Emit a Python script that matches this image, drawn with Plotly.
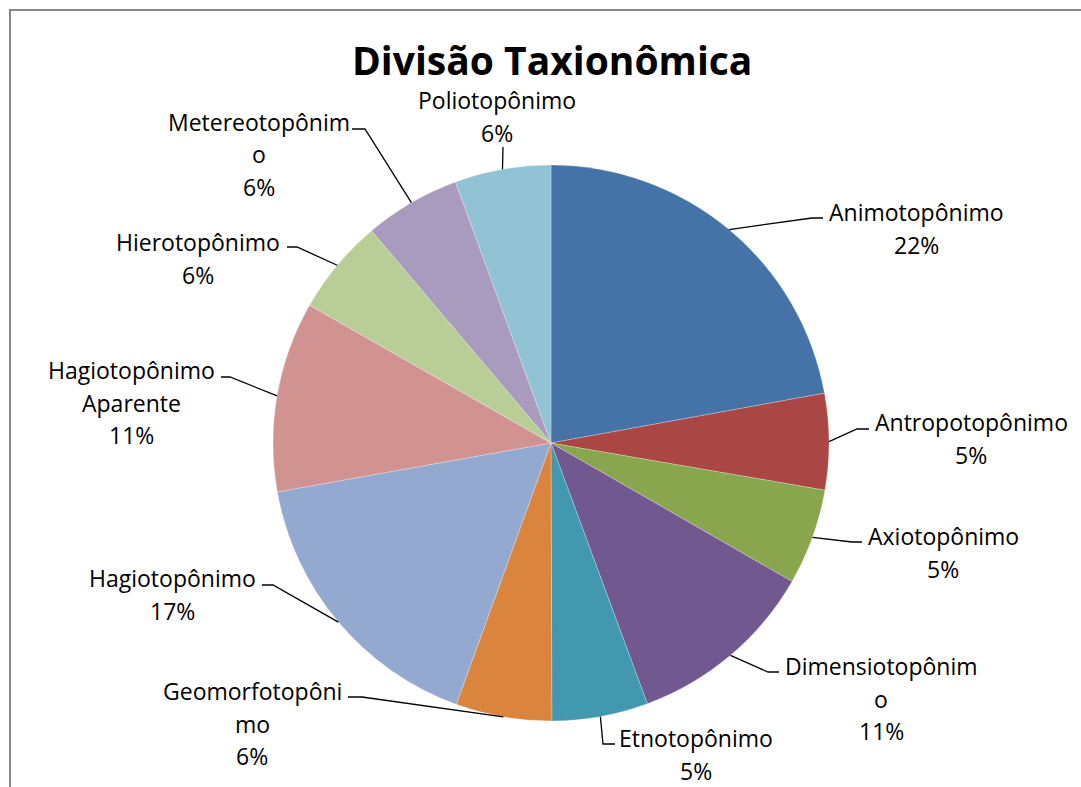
import math
import plotly.graph_objects as go

W, H = 1081, 787

# ---------------- data ----------------
categories = ["Animotopônimo", "Antropotopônimo", "Axiotopônimo", "Dimensiotopônimo",
              "Etnotopônimo", "Geomorfotopônimo", "Hagiotopônimo",
              "Hagiotopônimo Aparente", "Hierotopônimo", "Metereotopônimo", "Poliotopônimo"]
shares = [22.2, 5.6, 5.6, 11.1, 5.6, 5.6, 16.7, 11.1, 5.6, 5.6, 5.6]
pct_labels = ["22%", "5%", "5%", "11%", "5%", "6%", "17%", "11%", "6%", "6%", "6%"]
title_text = "Divisão Taxionômica"

# ---------------- style / layout ----------------
colors = ["#4572A7", "#AA4643", "#89A54E", "#71588F", "#4198AF", "#DB843D",
          "#93A9CF", "#D19392", "#B9CD96", "#A99BBD", "#92C3D5"]
# where Excel wrapped the category names (char index, 0 = no wrap)
wrap_at = [0, 0, 0, 15, 0, 14, 0, 13, 0, 14, 0]
# label placement (pixels): centre x, first baseline
label_x = [917, 971, 943, 881, 696, 252, 172, 131, 198, 259, 497]
label_base = [219, 429, 543, 673, 745, 698, 585, 377, 249, 129, 107]
# leader line elbow and end (pixels)
elbow = [(812, 218), (857, 429), (852, 542), (768, 672), (603, 744), (362, 697),
         (273, 585), (230, 377), (297, 247), (365, 129), (503, 147)]
lend = [(823, 218), (869, 429), (862, 542), (779, 672), (615, 744), (348, 697),
        (262, 585), (221, 377), (287, 247), (352, 129), (503, 147)]
LINE_GAP = 32.5
FONT = "Open Sans"
LABEL_SIZE = 23

PIE_L, PIE_R, PIE_T, PIE_B = 273, 829, 165, 721
CX, CY = (PIE_L + PIE_R) / 2, (PIE_T + PIE_B) / 2
R = (PIE_R - PIE_L) / 2


def px(x):
    return x / W


def py(y):
    return 1 - y / H


fig = go.Figure(go.Pie(
    labels=categories, values=shares, sort=False, direction="clockwise", rotation=0,
    marker=dict(colors=colors, line=dict(color="rgba(255,255,255,0.5)", width=0.5)),
    textinfo="none", hoverinfo="label+percent", showlegend=False,
    domain=dict(x=[px(PIE_L), px(PIE_R)], y=[py(PIE_B), py(PIE_T)]),
))

total = sum(shares)
shapes = []
annotations = []
cum = 0
for i, cat in enumerate(categories):
    mid = (cum + shares[i] / 2) / total * 2 * math.pi
    cum += shares[i]
    sx = CX + R * math.sin(mid)
    sy = CY - R * math.cos(mid)
    ex, ey = elbow[i]
    lx, ly = lend[i]
    shapes.append(dict(
        type="path", xref="paper", yref="paper",
        path=f"M {px(sx)},{py(sy)} L {px(ex)},{py(ey)} L {px(lx)},{py(ly)}",
        line=dict(color="black", width=1.3)))
    if wrap_at[i]:
        lines = [cat[:wrap_at[i]].strip(), cat[wrap_at[i]:].strip()]
    else:
        lines = [cat]
    lines.append(pct_labels[i])
    for k, t in enumerate(lines):
        base = label_base[i] + k * LINE_GAP
        annotations.append(dict(
            x=px(label_x[i]), y=py(base - 7), xref="paper", yref="paper",
            text=t, showarrow=False, xanchor="center", yanchor="middle",
            font=dict(family=FONT, size=LABEL_SIZE, color="black")))

annotations.append(dict(
    x=px(552), y=py(59), xref="paper", yref="paper", text=f"<b>{title_text}</b>",
    showarrow=False, xanchor="center", yanchor="middle",
    font=dict(family=FONT, size=39, color="black")))

# chart border (Excel chart area)
shapes.append(dict(type="rect", xref="paper", yref="paper",
                   x0=px(10), y0=py(10), x1=px(W + 20), y1=py(H + 20),
                   line=dict(color="#888888", width=2), fillcolor="rgba(0,0,0,0)"))

fig.update_layout(
    width=W, height=H, autosize=False,
    margin=dict(l=0, r=0, t=0, b=0),
    paper_bgcolor="white", plot_bgcolor="white",
    font=dict(family=FONT),
    shapes=shapes, annotations=annotations,
)

fig.write_html("out.html")
